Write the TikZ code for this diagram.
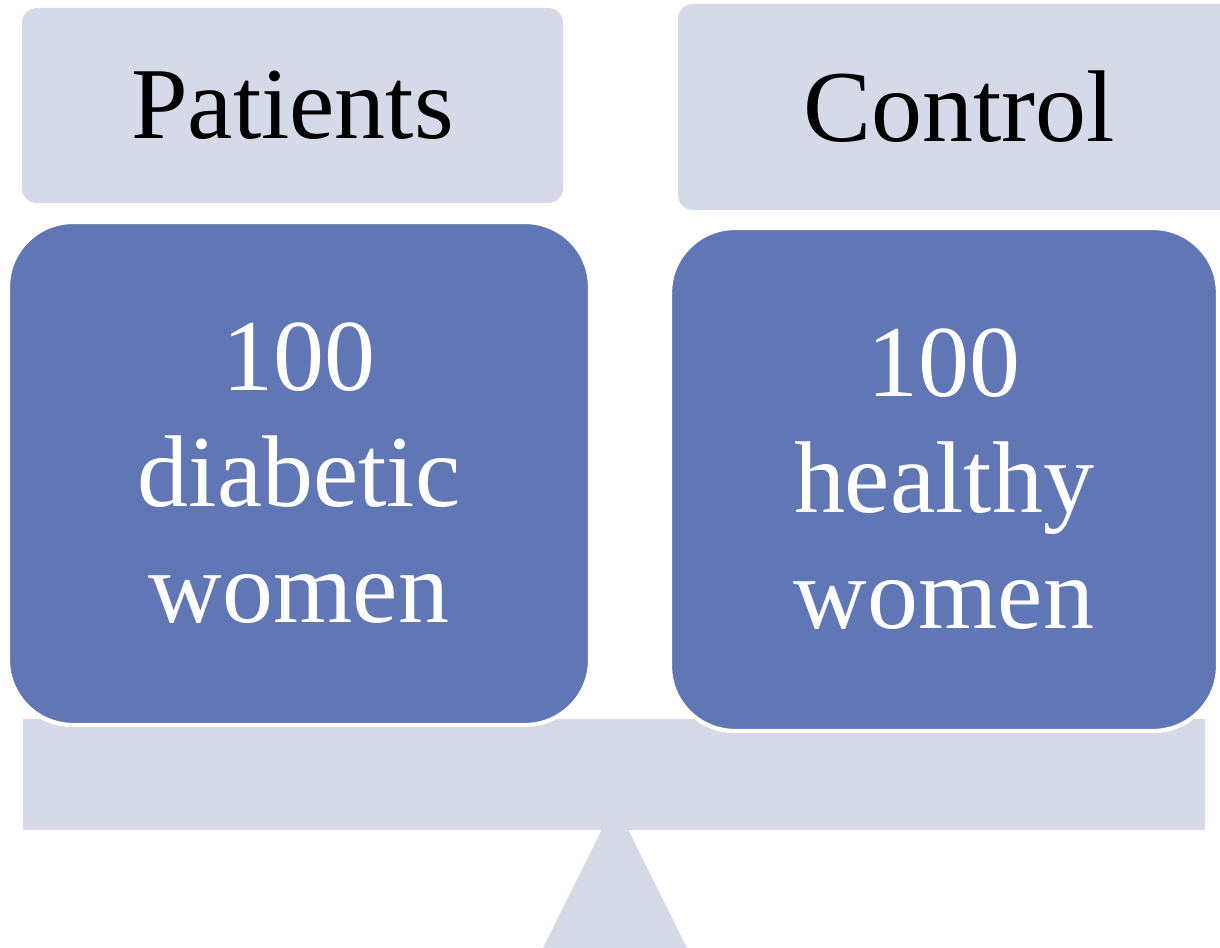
\documentclass[tikz,border=0pt]{standalone}
\usepackage{fontspec}
\setmainfont{Liberation Serif}
\definecolor{lavender}{HTML}{D6D9E8}
\definecolor{groupblue}{HTML}{6176B4}

\begin{document}
\begin{tikzpicture}
  \tikzstyle{header}=[fill=lavender,rounded corners=0.15cm,inner sep=0pt,
    font=\fontsize{29}{33}\selectfont,text=black]
  \tikzstyle{group}=[fill=groupblue,draw=white,line width=1.2pt,rounded corners=0.65cm,
    inner sep=0pt,align=center,text=white,font=\fontsize{29}{33}\selectfont]

  \useasboundingbox (0,0) rectangle (12.2,-9.48);
  \clip (0,0) rectangle (12.2,-9.48);

  % balance: stand and beam
  \fill[lavender] (6.15,-8.03) -- (6.93,-9.6) -- (5.37,-9.6) -- cycle;
  \node[fill=lavender,inner sep=0pt,minimum width=11.82cm,minimum height=1.11cm] (beam) at (6.14,-7.745) {};

  % the two groups
  \node[header,minimum width=5.41cm,minimum height=1.95cm] (patients) at (2.925,-1.055) {Patients};
  \node[header,minimum width=5.62cm,minimum height=2.06cm] (control) at (9.59,-1.07) {Control};

  \node[group,minimum width=5.82cm,minimum height=5.03cm] (diabetic) at (2.99,-4.735) {100\\diabetic\\women};
  \node[group,minimum width=5.48cm,minimum height=5.03cm] (healthy) at (9.44,-4.795) {100\\healthy\\women};
\end{tikzpicture}
\end{document}
